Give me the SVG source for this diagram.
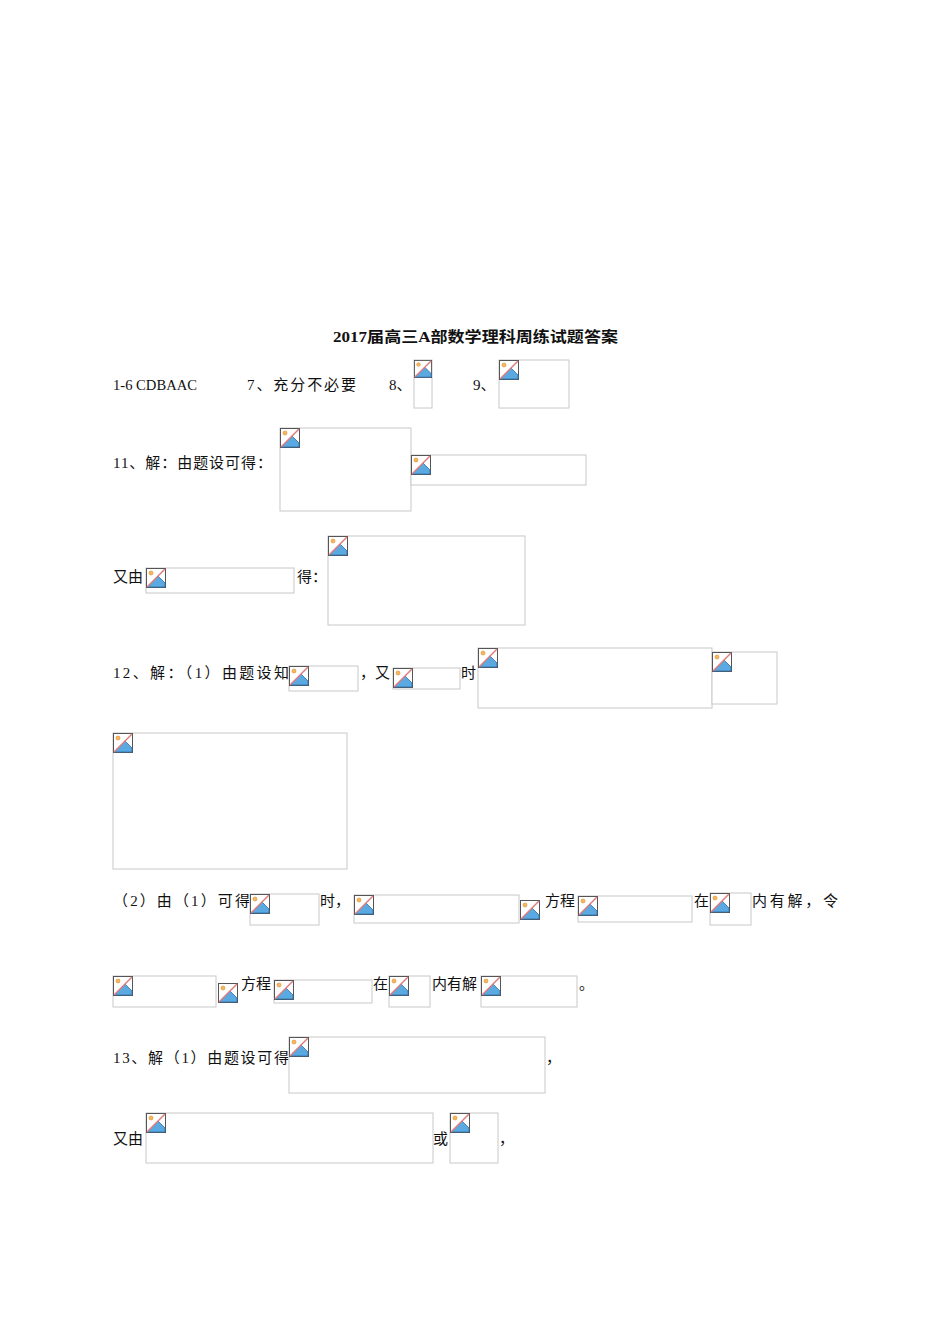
<svg xmlns="http://www.w3.org/2000/svg" xmlns:xlink="http://www.w3.org/1999/xlink" width="950" height="1344" viewBox="0 0 950 1344">
<style>
text{font-family:"Liberation Serif","Noto Sans CJK SC",serif;font-size:15px;fill:#111}
.t{font-weight:bold;font-size:15px}
.b{fill:#fff;stroke:#c8c8c8;stroke-width:1}
</style>
<defs>
<symbol id="ic" viewBox="0 0 20 20">
<rect x="0.5" y="0.5" width="19" height="19" fill="#fff" stroke="#555"/>
<path d="M1 19 L12 8 L19 15 L19 19 Z" fill="#5aa9e0" stroke="#2a6fb0" stroke-width="0.8"/>
<circle cx="5" cy="5" r="2" fill="#f4b860" stroke="#e08a2a" stroke-width="0.6"/>
<line x1="1" y1="19" x2="19" y2="1" stroke="#e07a7a" stroke-width="1.5"/>
</symbol>
</defs>
<rect width="950" height="1344" fill="#fff"/>
<text class="t" x="333" y="342" textLength="285" lengthAdjust="spacingAndGlyphs">2017届高三A部数学理科周练试题答案</text>
<text x="113" y="390" textLength="84" lengthAdjust="spacingAndGlyphs">1-6 CDBAAC</text>
<text x="247" y="390" textLength="109">7、充分不必要</text>
<text x="389" y="390">8、</text>
<text x="473" y="390">9、</text>
<text x="113" y="468" textLength="159">11、解：由题设可得：</text>
<text x="113" y="582">又由</text>
<text x="297" y="582">得：</text>
<text x="113" y="678" textLength="176">12、解：（1）由题设知</text>
<text x="360" y="678">，又</text>
<text x="461" y="678">时</text>
<text x="113" y="906" textLength="137">（2）由（1）可得</text>
<text x="320" y="906">时，</text>
<text x="545" y="906">方程</text>
<text x="694" y="906">在</text>
<text x="752" y="906" textLength="86">内有解，令</text>
<text x="241" y="989">方程</text>
<text x="373" y="989">在</text>
<text x="432" y="989">内有解</text>
<text x="579" y="989">。</text>
<text x="113" y="1063" textLength="176">13、解（1）由题设可得</text>
<text x="546" y="1063">，</text>
<text x="113" y="1144">又由</text>
<text x="433" y="1144">或</text>
<text x="499" y="1144">，</text>
<g id="imgs">
<g id="n1"><rect class="b" x="414" y="360" width="18" height="48"/><use href="#ic" x="414" y="360" width="18" height="18"/></g>
<g id="n2"><rect class="b" x="499" y="360" width="70" height="48"/><use href="#ic" x="499" y="360" width="20" height="20"/></g>
<g id="n3"><rect class="b" x="280" y="428" width="131" height="83"/><use href="#ic" x="280" y="428" width="20" height="20"/></g>
<g id="n4"><rect class="b" x="411" y="455" width="175" height="30"/><use href="#ic" x="411" y="455" width="20" height="20"/></g>
<g id="n5"><rect class="b" x="146" y="568" width="148" height="25"/><use href="#ic" x="146" y="568" width="20" height="20"/></g>
<g id="n6"><rect class="b" x="328" y="536" width="197" height="89"/><use href="#ic" x="328" y="536" width="20" height="20"/></g>
<g id="n7"><rect class="b" x="289" y="666" width="69" height="25"/><use href="#ic" x="289" y="666" width="20" height="20"/></g>
<g id="n8"><rect class="b" x="393" y="668" width="67" height="21"/><use href="#ic" x="393" y="668" width="20" height="20"/></g>
<g id="n9"><rect class="b" x="478" y="648" width="234" height="60"/><use href="#ic" x="478" y="648" width="20" height="20"/></g>
<g id="n10"><rect class="b" x="712" y="652" width="65" height="52"/><use href="#ic" x="712" y="652" width="20" height="20"/></g>
<g id="n11"><rect class="b" x="113" y="733" width="234" height="136"/><use href="#ic" x="113" y="733" width="20" height="20"/></g>
<g id="n12"><rect class="b" x="250" y="894" width="69" height="31"/><use href="#ic" x="250" y="894" width="20" height="20"/></g>
<g id="n13"><rect class="b" x="354" y="895" width="165" height="28"/><use href="#ic" x="354" y="895" width="20" height="20"/></g>
<g id="n14"><use href="#ic" x="520" y="900" width="20" height="20"/></g>
<g id="n15"><rect class="b" x="578" y="896" width="114" height="26"/><use href="#ic" x="578" y="896" width="20" height="20"/></g>
<g id="n16"><rect class="b" x="710" y="893" width="41" height="32"/><use href="#ic" x="710" y="893" width="20" height="20"/></g>
<g id="n17"><rect class="b" x="113" y="976" width="103" height="31"/><use href="#ic" x="113" y="976" width="20" height="20"/></g>
<g id="n18"><use href="#ic" x="218" y="983" width="20" height="20"/></g>
<g id="n19"><rect class="b" x="274" y="980" width="98" height="23"/><use href="#ic" x="274" y="980" width="20" height="20"/></g>
<g id="n20"><rect class="b" x="389" y="976" width="41" height="31"/><use href="#ic" x="389" y="976" width="20" height="20"/></g>
<g id="n21"><rect class="b" x="481" y="976" width="96" height="31"/><use href="#ic" x="481" y="976" width="20" height="20"/></g>
<g id="n22"><rect class="b" x="289" y="1037" width="256" height="56"/><use href="#ic" x="289" y="1037" width="20" height="20"/></g>
<g id="n23"><rect class="b" x="146" y="1113" width="287" height="50"/><use href="#ic" x="146" y="1113" width="20" height="20"/></g>
<g id="n24"><rect class="b" x="450" y="1113" width="48" height="50"/><use href="#ic" x="450" y="1113" width="20" height="20"/></g>
</g>
<g id="connectors"/>
</svg>
